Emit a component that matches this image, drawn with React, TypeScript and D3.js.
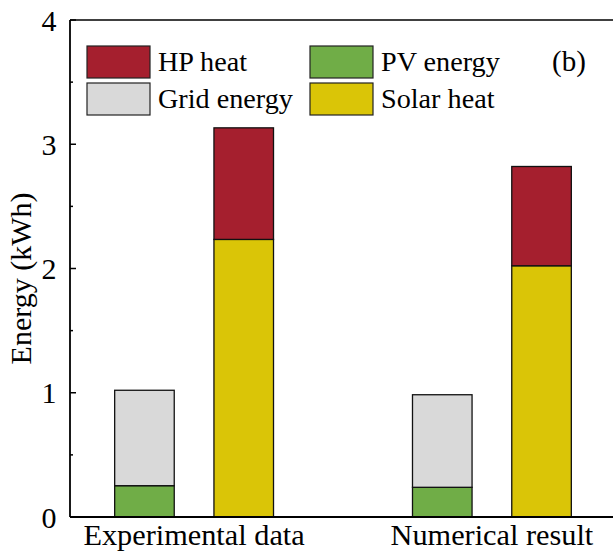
import React from "react";
import * as d3 from "d3";

const categories = ["Experimental data", "Numerical result"];
const pvEnergy = [0.252, 0.239];
const gridEnergy = [0.768, 0.745];
const solarHeat = [2.234, 2.022];
const hpHeat = [0.898, 0.799];
const yTicks = [0, 1, 2, 3, 4];
const yMinorTicks = [0.5, 1.5, 2.5, 3.5];

const legendItems = [
  { key: "hp", label: "HP heat", color: "#A51F2E" },
  { key: "pv", label: "PV energy", color: "#70AD47" },
  { key: "grid", label: "Grid energy", color: "#D9D9D9" },
  { key: "solar", label: "Solar heat", color: "#DAC507" },
];

const colors: Record<string, string> = {
  hp: "#A51F2E",
  pv: "#70AD47",
  grid: "#D9D9D9",
  solar: "#DAC507",
};

const W = 613;
const H = 552;
const FONT = "Liberation Serif";
const ts = { fontFamily: FONT };

export default function App() {
  const left = 70;
  const right = 616;
  const top = 20;
  const bottom = 517;

  const x = d3.scaleLinear().domain([0.25, 5.75]).range([left, right]);
  const y = d3.scaleLinear().domain([0, 4]).range([bottom, top]);
  const barW = x(0.6) - x(0);

  const electricRows = categories.map((c, i) => ({ cat: c, pv: pvEnergy[i], grid: gridEnergy[i] }));
  const heatRows = categories.map((c, i) => ({ cat: c, solar: solarHeat[i], hp: hpHeat[i] }));
  const electricStack = d3.stack<any>().keys(["pv", "grid"])(electricRows);
  const heatStack = d3.stack<any>().keys(["solar", "hp"])(heatRows);

  const rects: any[] = [];
  electricStack.forEach((s) => {
    s.forEach((d, i) => {
      rects.push({ key: s.key, pos: i * 3 + 1, y0: d[0], y1: d[1] });
    });
  });
  heatStack.forEach((s) => {
    s.forEach((d, i) => {
      rects.push({ key: s.key, pos: i * 3 + 2, y0: d[0], y1: d[1] });
    });
  });

  const legendX = [87, 310];
  const legendY = [46, 83];

  return (
    <svg width={W} height={H} style={{ position: "absolute", left: 0, top: 0, fontFamily: FONT }}>
      <rect x={0} y={0} width={W} height={H} fill="#fff" />
      {rects.map((r, i) => (
        <rect
          key={i}
          x={x(r.pos) - barW / 2}
          y={y(r.y1)}
          width={barW}
          height={y(r.y0) - y(r.y1)}
          fill={colors[r.key]}
          stroke="#111"
          strokeWidth={1.3}
        />
      ))}
      <line x1={left} x2={W} y1={top} y2={top} stroke="#000" strokeWidth={1.5} />
      <line x1={left} x2={W} y1={bottom} y2={bottom} stroke="#000" strokeWidth={1.8} />
      <line x1={left} x2={left} y1={top} y2={bottom} stroke="#000" strokeWidth={1.8} />
      {yTicks.map((t) => (
        <g key={t}>
          <line x1={left} x2={left + 6} y1={y(t)} y2={y(t)} stroke="#000" strokeWidth={1.5} />
          <text x={56.5} y={y(t) + 10.5} textAnchor="end" fontSize={30} fill="#000" style={ts}>
            {t}
          </text>
        </g>
      ))}
      {yMinorTicks.map((t) => (
        <line key={t} x1={left} x2={left + 3} y1={y(t)} y2={y(t)} stroke="#000" strokeWidth={1.5} />
      ))}
      <text
        transform={`translate(31, ${y(2) + 10}) rotate(-90)`}
        textAnchor="middle"
        fontSize={30}
        fill="#000"
        style={ts}
      >
        Energy (kWh)
      </text>
      {categories.map((c, i) => (
        <text key={c} x={x(i * 3 + 1.5)} y={545} textAnchor="middle" fontSize={30.3} fill="#000" style={ts}>
          {c}
        </text>
      ))}
      {legendItems.map((it, i) => {
        const lx = legendX[i % 2];
        const ly = legendY[Math.floor(i / 2)];
        return (
          <g key={it.key}>
            <rect x={lx} y={ly} width={63} height={32} fill={it.color} stroke="#222" strokeWidth={1.2} />
            <text x={lx + 71} y={ly + 25} fontSize={28.2} fill="#000" style={ts}>
              {it.label}
            </text>
          </g>
        );
      })}
      <text x={552} y={71} fontSize={29} fill="#000" style={ts}>
        (b)
      </text>
    </svg>
  );
}
